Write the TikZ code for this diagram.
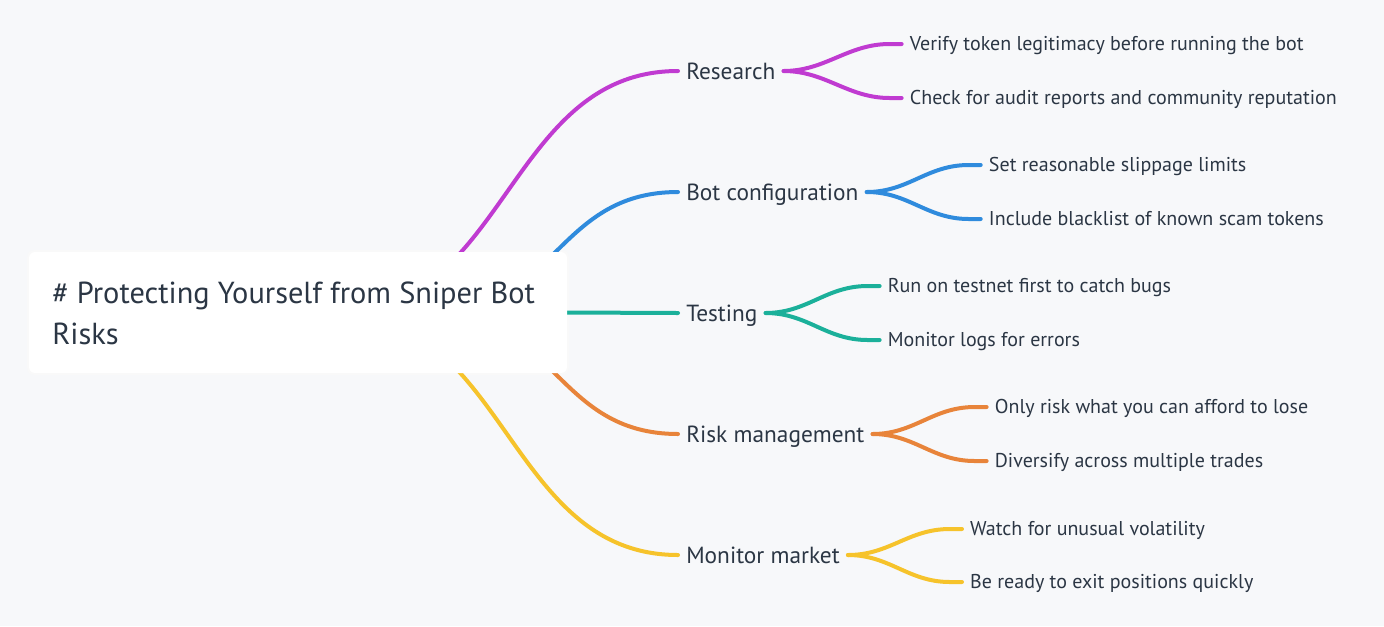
\documentclass[tikz,border=0pt]{standalone}
\usepackage{fontspec}
\setmainfont{PT Sans}
\usetikzlibrary{calc}
\definecolor{bg}{HTML}{F7F8FA}
\definecolor{ink}{HTML}{2B3644}
\definecolor{cpurple}{HTML}{C03BD1}
\definecolor{cblue}{HTML}{2F8BDD}
\definecolor{cteal}{HTML}{1BB09A}
\definecolor{corange}{HTML}{E8843A}
\definecolor{cyellow}{HTML}{F6C32B}
\pgfdeclarelayer{back}
\pgfdeclarelayer{links}
\pgfsetlayers{back,links,main}
\begin{document}
\begin{tikzpicture}[x=0.75pt,y=-0.75pt,
  branch/.style={font=\fontsize{17.5}{21}\selectfont, text=ink, anchor=west,
    inner xsep=6pt, inner ysep=0pt, text height=12pt, text depth=0pt},
  leaf/.style={font=\fontsize{15}{18}\selectfont, text=ink, anchor=west,
    inner xsep=6pt, inner ysep=0pt, text height=10.4pt, text depth=0pt},
  link/.style={line width=3pt, line cap=round},
  sublink/.style={line width=3pt, line cap=round},
  rootbox/.style={fill=white, rounded corners=4.5pt, minimum width=403.5pt,
    minimum height=90.75pt, inner sep=0pt},
  roottext/.style={font=\fontsize{22.8}{30.5}\selectfont, text=ink, align=left,
    anchor=north west, inner sep=0pt}
]
\begin{pgfonlayer}{back}
\fill[bg] (0,0) rectangle (1384,626);
\end{pgfonlayer}
\useasboundingbox (0,0) rectangle (1384,626);

% root
\node[rootbox] (root) at (298,312.5) {};
\node[roottext] (rtext) at (52,281.5) {\# Protecting Yourself from Sniper Bot\\Risks};
\begin{pgfonlayer}{back}
\fill[black!2.5, rounded corners=5pt] ($(root.south west)+(-1.5,1.5)$) rectangle ($(root.north east)+(1.5,-1.5)$);
\end{pgfonlayer}

% branches
\node[branch] (research) at (678,71) {Research};
\node[branch] (botcfg) at (678,192) {Bot configuration};
\node[branch] (testing) at (678,313) {Testing};
\node[branch] (risk) at (678,434) {Risk management};
\node[branch] (monitor) at (678,555) {Monitor market};

% leaves
\node[leaf] (r1) at ($(research.east)+(118,-27)$) {Verify token legitimacy before running the bot};
\node[leaf] (r2) at ($(research.east)+(118,27)$) {Check for audit reports and community reputation};
\node[leaf] (b1) at ($(botcfg.east)+(114,-27)$) {Set reasonable slippage limits};
\node[leaf] (b2) at ($(botcfg.east)+(114,27)$) {Include blacklist of known scam tokens};
\node[leaf] (t1) at ($(testing.east)+(114,-27)$) {Run on testnet first to catch bugs};
\node[leaf] (t2) at ($(testing.east)+(114,27)$) {Monitor logs for errors};
\node[leaf] (k1) at ($(risk.east)+(114,-27)$) {Only risk what you can afford to lose};
\node[leaf] (k2) at ($(risk.east)+(114,27)$) {Diversify across multiple trades};
\node[leaf] (m1) at ($(monitor.east)+(114,-26)$) {Watch for unusual volatility};
\node[leaf] (m2) at ($(monitor.east)+(114,27)$) {Be ready to exit positions quickly};

\coordinate (s1) at (336,313);
\coordinate (s2) at (432,313);
\coordinate (s4) at (432,313);
\coordinate (s5) at (336,313);

\begin{pgfonlayer}{links}
\draw[link,cpurple] (s1) .. controls (507,313) and (507,71) .. (research.west);
\draw[link,cblue] (s2) .. controls (555,313) and (555,192) .. (botcfg.west);
\draw[link,cteal] (root.east) -- (testing.west);
\draw[link,corange] (s4) .. controls (555,313) and (555,434) .. (risk.west);
\draw[link,cyellow] (s5) .. controls (507,313) and (507,555) .. (monitor.west);

\foreach \p/\a/\b/\c in {research/r1/r2/cpurple, botcfg/b1/b2/cblue, testing/t1/t2/cteal, risk/k1/k2/corange, monitor/m1/m2/cyellow}{
  \draw[sublink,\c] (\p.east) .. controls +(42,0) and +(-42,0) .. ([xshift=-9pt]\a.west) -- (\a.west);
  \draw[sublink,\c] (\p.east) .. controls +(42,0) and +(-42,0) .. ([xshift=-9pt]\b.west) -- (\b.west);
}
\end{pgfonlayer}
\end{tikzpicture}
\end{document}
